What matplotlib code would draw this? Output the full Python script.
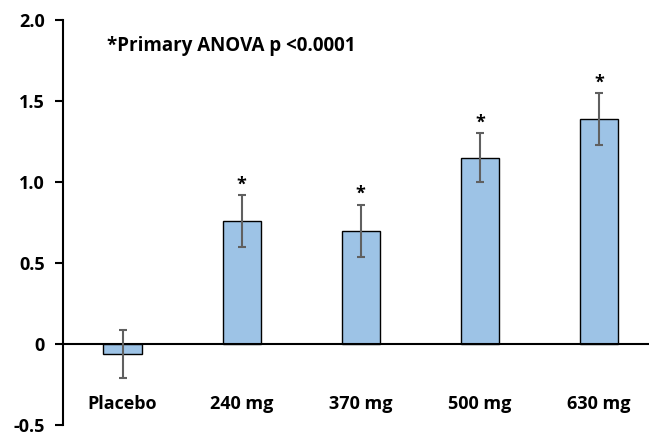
import matplotlib.pyplot as plt

groups = ['Placebo', '240 mg', '370 mg', '500 mg', '630 mg']
means = [-0.06, 0.76, 0.70, 1.15, 1.39]
errors = [0.15, 0.16, 0.16, 0.15, 0.16]
signif = [False, True, True, True, True]
yticks = [-0.5, 0, 0.5, 1.0, 1.5, 2.0]
ytick_labels = ['-0.5', '0', '0.5', '1.0', '1.5', '2.0']

plt.rcParams['font.family'] = ['Open Sans', 'DejaVu Sans']
plt.rcParams['font.weight'] = 'bold'

fig = plt.figure(figsize=(6.49, 4.33), dpi=100)
ax = fig.add_axes([0.097, 0.018, 0.903, 0.936])

x = list(range(len(groups)))
ax.bar(x, means, width=0.32, color='#9DC3E6', edgecolor='black', linewidth=1, zorder=2)
ax.errorbar(x, means, yerr=errors, fmt='none', ecolor='#606060', elinewidth=1.5,
            capsize=3, capthick=1.5, zorder=3)

# asterisks over the significant doses
for xi, m, e, s in zip(x, means, errors, signif):
    if s:
        ax.text(xi, m + e + 0.01, '*', ha='center', va='bottom', fontsize=13, fontweight='bold')

for xi, g in zip(x, groups):
    ax.text(xi, -0.37, g, ha='center', va='center', fontsize=13, fontweight='bold')

ax.text(-0.13, 1.84, '*Primary ANOVA p <0.0001', ha='left', va='center', fontsize=13.5, fontweight='bold')

ax.set_xlim(-0.5, 4.42)
ax.set_ylim(-0.5, 2.0)
ax.set_yticks(yticks)
ax.set_yticklabels(ytick_labels, fontsize=13, fontweight='bold')
ax.set_xticks([])
ax.spines['top'].set_visible(False)
ax.spines['right'].set_visible(False)
ax.spines['bottom'].set_position(('data', 0))
ax.spines['bottom'].set_linewidth(1.5)
ax.spines['left'].set_linewidth(1.5)
ax.tick_params(axis='y', direction='out', length=6, width=1.5, pad=7)

plt.savefig('out.png', dpi=100)
